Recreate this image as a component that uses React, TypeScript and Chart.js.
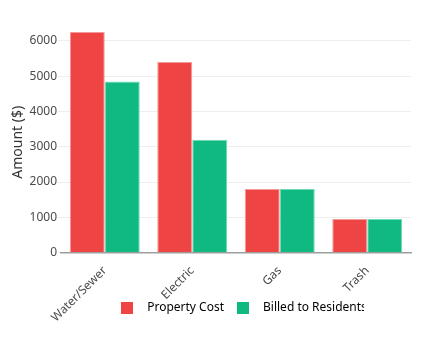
import React, { useEffect, useRef } from "react";
import { Chart, registerables } from "chart.js";

Chart.register(...registerables);

const categories = ["Water/Sewer", "Electric", "Gas", "Trash"];
const propertyCost = [6250, 5400, 1800, 950];
const billedToResidents = [4850, 3200, 1800, 950];
const seriesLabels = ["Property Cost", "Billed to Residents"];
const yTicks = [0, 1000, 2000, 3000, 4000, 5000, 6000];
const yMax = 6250;

const FONT = "'Noto Sans', sans-serif";

function swatch(color: string) {
  const c = document.createElement("canvas");
  c.width = 12;
  c.height = 12;
  const g = c.getContext("2d")!;
  g.fillStyle = color;
  g.fillRect(0, 0, 12, 12);
  return c;
}

export default function App() {
  const ref = useRef<HTMLCanvasElement>(null);
  useEffect(() => {
    const colors = ["#EF4444", "#10B981"];
    const borders = ["#F59A9A", "#6FDDB9"];
    const legendTweak = {
      id: "legendTweak",
      afterLayout(chart: any) {
        const lg = chart.legend;
        if (!lg) return;
        lg.left += 4;
        lg.right += 4;
        lg.top -= 31;
        lg.bottom -= 31;
      },
      afterDraw(chart: any) {
        const lg = chart.legend;
        if (!lg || !lg.legendHitBoxes || lg.legendHitBoxes.length < 2) return;
        const hb = lg.legendHitBoxes[1];
        const x = hb.left + 34 + 101;
        const ctx = chart.ctx;
        ctx.save();
        ctx.fillStyle = "#ffffff";
        ctx.fillRect(x, lg.top, chart.width - x, lg.height);
        ctx.restore();
      },
    };
    const chart = new Chart(ref.current!, {
      type: "bar",
      data: {
        labels: categories,
        datasets: [
          {
            label: seriesLabels[0],
            data: propertyCost,
            backgroundColor: colors[0],
            borderColor: borders[0],
            borderWidth: 1,
          },
          {
            label: seriesLabels[1],
            data: billedToResidents,
            backgroundColor: colors[1],
            borderColor: borders[1],
            borderWidth: 1,
          },
        ],
      },
      options: {
        animation: false,
        responsive: true,
        maintainAspectRatio: false,
        datasets: { bar: { categoryPercentage: 0.8, barPercentage: 1 } },
        layout: { padding: { top: 24, right: 11, left: 0, bottom: -11 } },
        scales: {
          x: {
            grid: { display: false },
            border: { color: "#9e9e9e", width: 1.5 },
            ticks: {
              minRotation: 45,
              maxRotation: 45,
              color: "#4a4a4a",
              font: { family: FONT, size: 12 },
            },
          },
          y: {
            min: 0,
            max: yMax,
            border: { display: false },
            grid: { color: "#eeeeee", tickLength: 3 },
            afterBuildTicks: (s: any) => {
              s.ticks = yTicks.map((v) => ({ value: v }));
            },
            ticks: {
              padding: 1,
              color: "#4a4a4a",
              font: { family: FONT, size: 12 },
              callback: (v: any) => String(v),
            },
            title: {
              display: true,
              text: "Amount ($)",
              color: "#333333",
              padding: { top: 2, bottom: 2 },
              font: { family: FONT, size: 14 },
            },
            afterFit: (s: any) => {
              s.width = 53;
            },
          },
        },
        plugins: {
          tooltip: { enabled: false },
          legend: {
            position: "bottom",
            fullSize: false,
            labels: {
              usePointStyle: true,
              pointStyleWidth: 28,
              padding: 5,
              color: "#4a4a4a",
              font: { family: FONT, size: 12 },
              generateLabels: (c: any) =>
                c.data.datasets.map((d: any, i: number) => ({
                  text: d.label,
                  fillStyle: d.backgroundColor,
                  strokeStyle: d.backgroundColor,
                  lineWidth: 0,
                  pointStyle: swatch(d.backgroundColor),
                  hidden: false,
                  datasetIndex: i,
                })),
            },
          },
        },
      },
      plugins: [legendTweak],
    });
    return () => chart.destroy();
  }, []);
  return (
    <div style={{ width: "414px", height: "336px", position: "relative" }}>
      <canvas ref={ref} />
    </div>
  );
}
